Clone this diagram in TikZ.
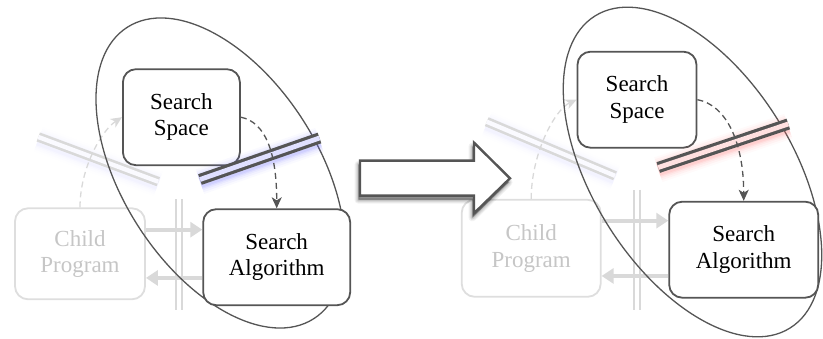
\documentclass[tikz,border=0pt]{standalone}
\usepackage{fontspec}
\setmainfont{Liberation Serif}
\newfontfamily\labelfont{Liberation Serif}
\usetikzlibrary{arrows.meta,calc}
\pgfdeclarelayer{back}
\pgfsetlayers{back,main}
\definecolor{ink}{HTML}{555555}
\definecolor{faded}{HTML}{D9D9D9}
\definecolor{fadedborder}{HTML}{DEDEDE}
\definecolor{fadedtext}{HTML}{C6C6C6}
\definecolor{glowblue}{HTML}{6A6AFF}
\definecolor{glowred}{HTML}{FF6A6A}
% soft halo under a separator: colour, opacity scale, start, end
\newcommand{\halo}[4]{%
  \foreach \w/\o in {26/0.035,22/0.05,18/0.07,15/0.09,12.5/0.11}
    \draw[line width=\w pt, draw=#1, opacity=#2*\o, yshift=-2.2pt] #3 -- #4;
}
% outline of the block arrow between the two panels
\def\blockarrow{(360,160.7) -- (474,160.7) -- (474,142.7) -- (510,178.3)
  -- (474,213.3) -- (474,195.7) -- (360,195.7) -- cycle}
\begin{document}
\begin{tikzpicture}[x=1pt, y=-1pt,
  outline/.style={draw=ink, line width=1.3pt},
  box/.style={draw=ink, line width=1.8pt, rounded corners=13pt, fill=white,
    align=center, inner sep=0pt, text=black,
    font=\labelfont\fontsize{23}{26.5}\selectfont},
  fadedbox/.style={box, draw=fadedborder, text=fadedtext},
  darksep/.style={draw=ink, line width=3.2pt, double distance=4.8pt, double=#1},
  lightsep/.style={draw=faded, line width=2.6pt, double distance=4.4pt, double=#1},
  railsep/.style={draw=faded, line width=1.8pt, double distance=4.2pt, double=white},
  lightarrow/.style={draw=faded, line width=4pt, -{Triangle[length=12pt,width=15pt]}},
  darkdash/.style={draw=ink, line width=1.3pt, dash pattern=on 6pt off 4pt,
    -{Stealth[length=11pt,width=10pt,inset=3pt]}},
  lightdash/.style={draw=faded, line width=1.3pt, dash pattern=on 6pt off 4pt,
    -{Stealth[length=11pt,width=10pt,inset=3pt]}},
  bigarrow/.style={draw=ink, line width=2.4pt, fill=white, line join=miter}
]
\useasboundingbox (0,0) rectangle (823,339);

% ================= left panel =================
\draw[outline, rotate around={-57.4:(220.5,173)}]
  (220.5,173) ellipse [x radius=173pt, y radius=98pt];

\node[box, minimum width=117pt, minimum height=96pt] (ssA) at (181.4,117.2) {Search\\Space};
\node[box, minimum width=147pt, minimum height=96pt] (saA) at (276.7,257.2) {Search\\Algorithm};

\begin{pgfonlayer}{back}
  \node[fadedbox, minimum width=130pt, minimum height=91pt] (cpA) at (80,253.8) {Child\\Program};
  \halo{glowblue}{0.2}{(38.3,137)}{(158.3,181.7)}
  \draw[lightsep=blue!2] (38.3,137) -- (158.3,181.7);
  \draw[railsep] (178.7,199.3) -- (178.7,310);
  \coordinate (a1) at ($(cpA.north east)!0.24!(cpA.south east)$);
  \coordinate (a2) at ($(cpA.north east)!0.76!(cpA.south east)$);
  \draw[lightarrow] (a1) -- (a1 -| saA.west);
  \draw[lightarrow] (a2 -| saA.west) -- (a2);
  \draw[lightdash] (cpA.north) .. controls +(0,-40) and +(-20,13) .. (ssA.west);
\end{pgfonlayer}

\halo{glowblue}{1}{(200,179.5)}{(319.5,138)}
\draw[darksep=blue!12] (200,179.5) -- (319.5,138);
\draw[darkdash] (ssA.east) .. controls +(25,5) and +(0,-55) .. (saA.north);

% ================= transition arrow =================
\foreach \w/\o in {8/0.05,6/0.06,4/0.08,2/0.1,0.5/0.12}
  \filldraw[black, opacity=\o, line width=\w pt, line join=round,
    xshift=-1.5pt, yshift=-4pt] \blockarrow;
\draw[bigarrow] \blockarrow;

% ================= right panel =================
\draw[outline, rotate around={-58:(692.5,172)}]
  (692.5,172) ellipse [x radius=184pt, y radius=100pt];

\node[box, minimum width=119pt, minimum height=96pt] (ssB) at (637,99.7) {Search\\Space};
\node[box, minimum width=149pt, minimum height=96pt] (saB) at (743.7,249.7) {Search\\Algorithm};

\begin{pgfonlayer}{back}
  \node[fadedbox, minimum width=139pt, minimum height=97pt] (cpB) at (531.2,248.3) {Child\\Program};
  \halo{glowblue}{0.2}{(486.7,121.7)}{(615,175.8)}
  \draw[lightsep=blue!2] (486.7,121.7) -- (615,175.8);
  \draw[railsep] (636.7,190) -- (636.7,310);
  \coordinate (b1) at ($(cpB.north east)!0.22!(cpB.south east)$);
  \coordinate (b2) at ($(cpB.north east)!0.78!(cpB.south east)$);
  \draw[lightarrow] (b1) -- (b1 -| saB.west);
  \draw[lightarrow] (b2 -| saB.west) -- (b2);
  \draw[lightdash] (cpB.north) .. controls +(0,-45) and +(-22,10) .. (ssB.west);
\end{pgfonlayer}

\halo{glowred}{1}{(658.3,167.5)}{(788.3,124)}
\draw[darksep=red!12] (658.3,167.5) -- (788.3,124);
\draw[darkdash] (ssB.east) .. controls +(28,5) and +(0,-60) .. (saB.north);
\end{tikzpicture}
\end{document}
